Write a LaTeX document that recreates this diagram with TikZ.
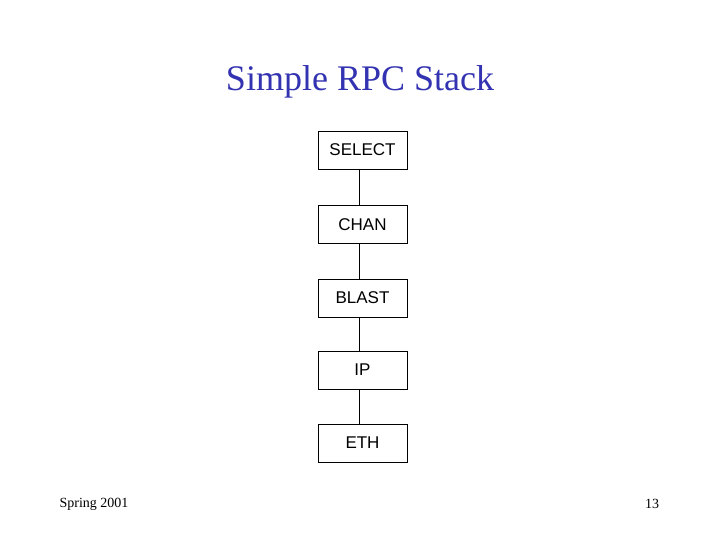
\documentclass[tikz,border=0pt]{standalone}
\usepackage{fontspec}
\setmainfont{Liberation Serif}
\newfontfamily\boxfont{Liberation Sans}
\usetikzlibrary{positioning}
\definecolor{titleblue}{RGB}{51,51,178}

\begin{document}
\begin{tikzpicture}[x=1pt,y=-1pt]
        \useasboundingbox (0,0) rectangle (720,540);
        \begin{scope}[every node/.style={draw, thick, minimum width=89pt, minimum height=38pt, inner sep=0, font=\boxfont\fontsize{17}{20}\selectfont}]
                \node (SEL) at (362.5,150) {SELECT};
                \node (CHAN) at (362.5,224.5) {CHAN};
                \node (BLAST) at (362.5,298) {BLAST};
                \node (IP) at (362.5,370) {IP};
                \node (ETH) at (362.5,443) {ETH};
        \end{scope}
        \begin{scope}[every path/.style={thick}]
                \draw (359,169) -- (359,206);
                \draw (359,243) -- (359,279);
                \draw (359,317) -- (359,351);
                \draw (359,389) -- (359,424);
        \end{scope}
        \node[text=titleblue, font=\fontsize{36}{40}\selectfont] (T) at (360,82) {Simple RPC Stack};
        \node[font=\fontsize{14}{16}\selectfont] (D) at (94,504) {Spring 2001};
        \node[font=\fontsize{14}{16}\selectfont] (N) at (652,504) {13};
\end{tikzpicture}
\end{document}
